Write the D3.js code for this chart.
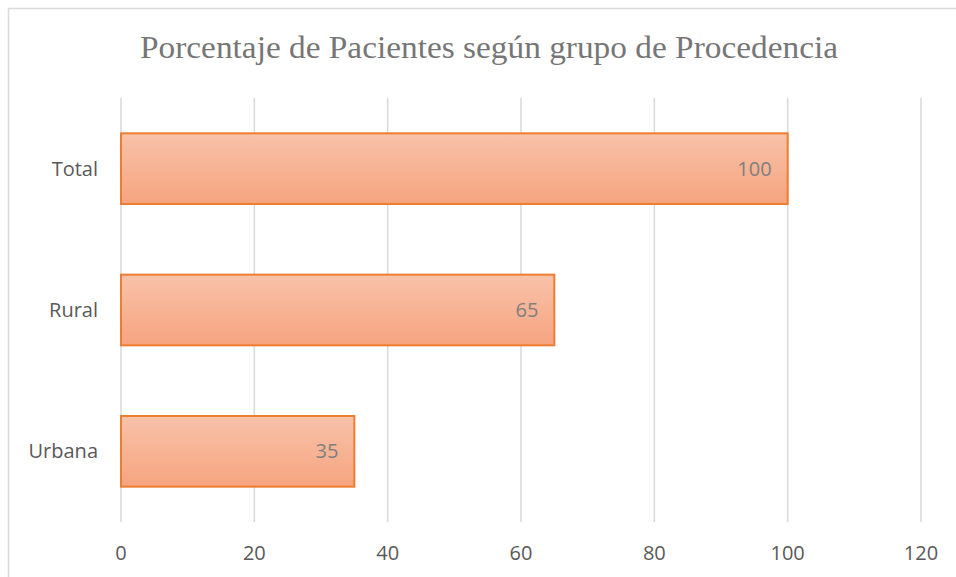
<!DOCTYPE html>
<html>
<head>
<meta charset="utf-8">
<script src="https://cdn.jsdelivr.net/npm/d3@7"></script>
<style>
  body { margin: 0; background: white; }
</style>
</head>
<body>
<div id="chart"></div>
<script>
const categories = ["Total", "Rural", "Urbana"];
const values = [100, 65, 35];
const xTicks = [0, 20, 40, 60, 80, 100, 120];
const title = "Porcentaje de Pacientes según grupo de Procedencia";

const width = 956;
const height = 577;
const margin = { top: 98, right: 35, bottom: 55, left: 121 };

const svg = d3.select("#chart")
  .append("svg")
  .attr("width", width)
  .attr("height", height)
  .style("background", "white");

// borde del área del gráfico
svg.append("rect")
  .attr("x", 8.5)
  .attr("y", 8.5)
  .attr("width", width + 10)
  .attr("height", height + 10)
  .attr("fill", "white")
  .attr("stroke", "#d9d9d9")
  .attr("stroke-width", 1.5);

const defs = svg.append("defs");
const grad = defs.append("linearGradient")
  .attr("id", "barGrad")
  .attr("x1", 0).attr("y1", 0).attr("x2", 0).attr("y2", 1);
grad.append("stop").attr("offset", "0%").attr("stop-color", "#f8c2a9");
grad.append("stop").attr("offset", "100%").attr("stop-color", "#f6a47f");

const x = d3.scaleLinear()
  .domain([0, 120])
  .range([margin.left, 921]);

const y = d3.scaleBand()
  .domain(categories)
  .range([margin.top, height - margin.bottom])
  .paddingInner(0.5)
  .paddingOuter(0.25);

// líneas de cuadrícula
svg.append("g")
  .selectAll("line")
  .data(xTicks)
  .enter()
  .append("line")
    .attr("x1", d => x(d))
    .attr("x2", d => x(d))
    .attr("y1", margin.top)
    .attr("y2", height - margin.bottom)
    .attr("stroke", "#d9d9d9")
    .attr("stroke-width", 1.5);

const labelFont = "'Open Sans', 'Noto Sans', sans-serif";

// etiquetas del eje x
svg.append("g")
  .selectAll("text")
  .data(xTicks)
  .enter()
  .append("text")
    .attr("x", d => x(d))
    .attr("y", 560)
    .attr("text-anchor", "middle")
    .attr("font-family", labelFont)
    .attr("font-size", "20px")
    .attr("fill", "#595959")
    .text(d => d);

// etiquetas del eje y
svg.append("g")
  .selectAll("text")
  .data(categories)
  .enter()
  .append("text")
    .attr("x", 98)
    .attr("y", d => y(d) + y.bandwidth() / 2)
    .attr("dy", "0.35em")
    .attr("text-anchor", "end")
    .attr("font-family", labelFont)
    .attr("font-size", "20px")
    .attr("fill", "#595959")
    .text(d => d);

const data = categories.map((c, i) => ({ cat: c, value: values[i] }));

svg.selectAll(".bar")
  .data(data)
  .enter()
  .append("rect")
    .attr("class", "bar")
    .attr("x", x(0))
    .attr("y", d => y(d.cat))
    .attr("width", d => x(d.value) - x(0))
    .attr("height", y.bandwidth())
    .attr("fill", "url(#barGrad)")
    .attr("stroke", "#ed7d31")
    .attr("stroke-width", 2);

svg.selectAll(".label")
  .data(data)
  .enter()
  .append("text")
    .attr("class", "label")
    .attr("x", d => x(d.value) - 16)
    .attr("y", d => y(d.cat) + y.bandwidth() / 2)
    .attr("dy", "0.35em")
    .attr("text-anchor", "end")
    .attr("font-family", labelFont)
    .attr("font-size", "20px")
    .attr("fill", "#7f7f7f")
    .text(d => d.value);

svg.append("text")
  .attr("x", 489)
  .attr("y", 58)
  .attr("text-anchor", "middle")
  .attr("font-family", "'Liberation Serif', 'DejaVu Serif', serif")
  .attr("font-size", "31px")
  .attr("textLength", 698)
  .attr("lengthAdjust", "spacingAndGlyphs")
  .attr("fill", "#767676")
  .text(title);
</script>
</body>
</html>
